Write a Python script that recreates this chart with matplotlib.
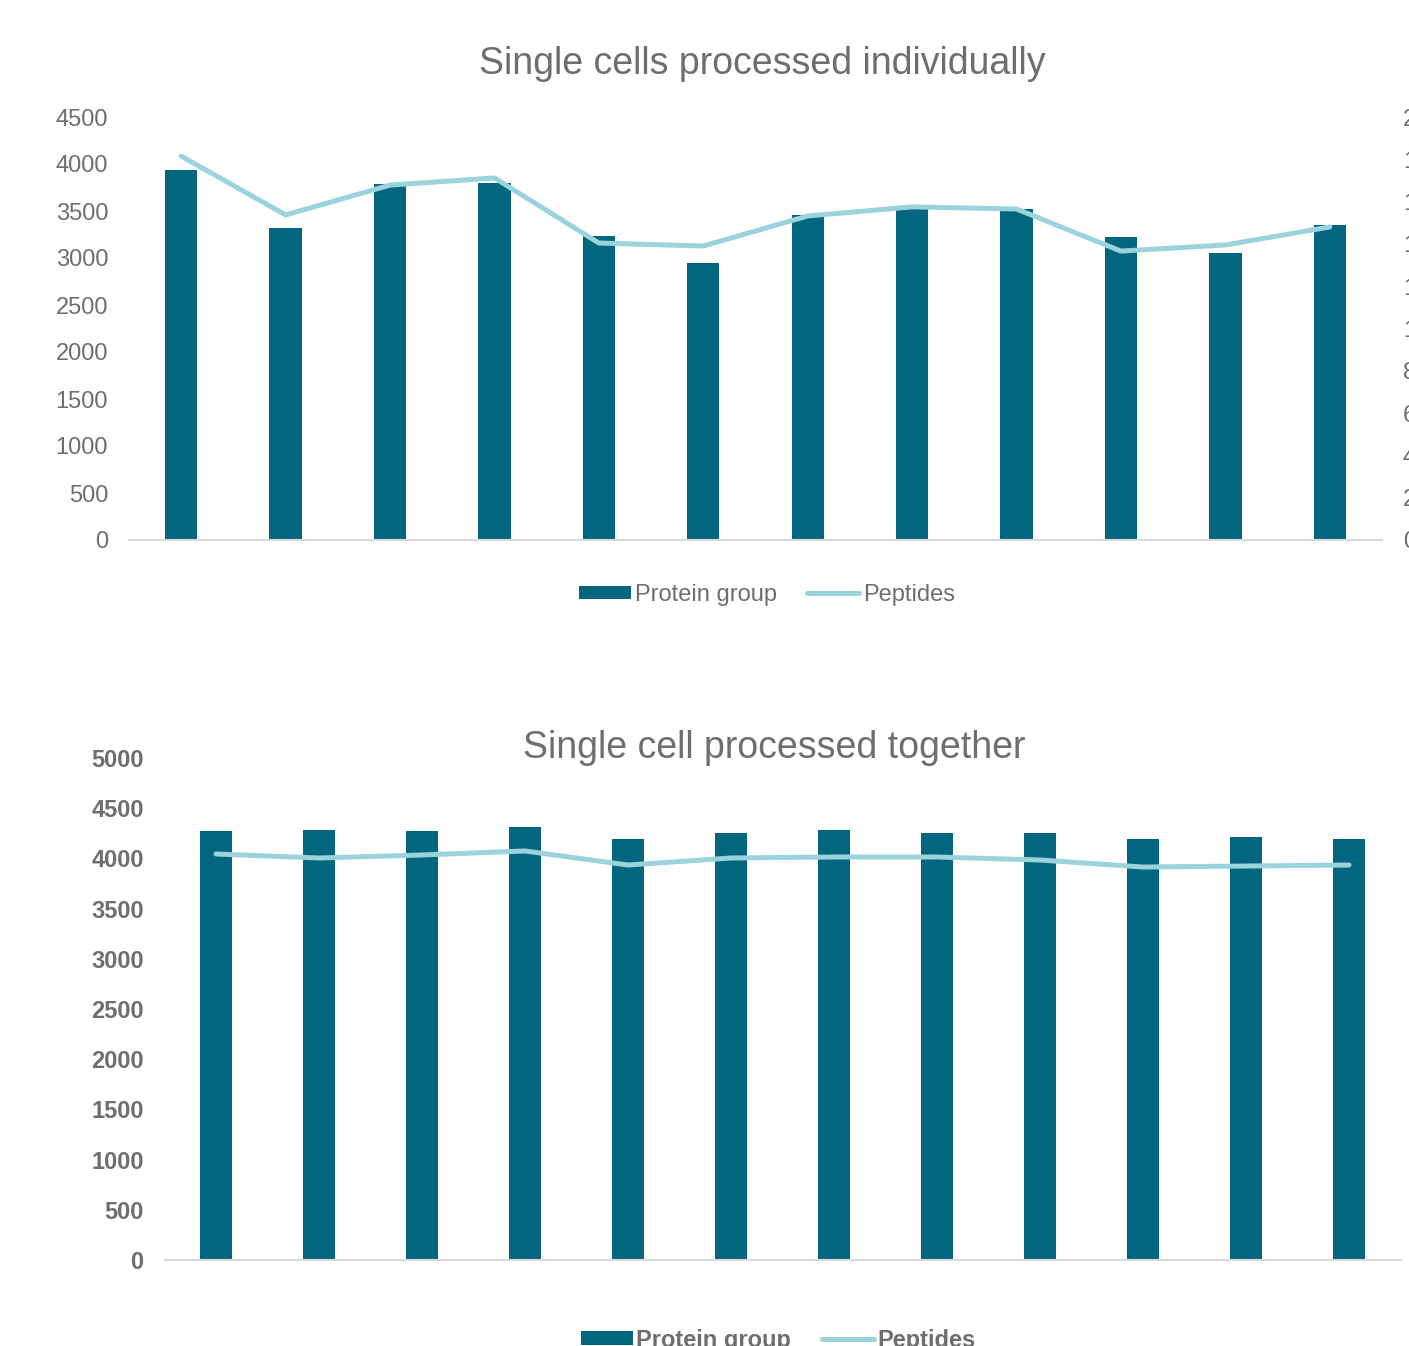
import matplotlib
matplotlib.use("Agg")
import matplotlib.pyplot as plt
from matplotlib.patches import Patch
from matplotlib.lines import Line2D

plt.rcParams['font.family'] = ['Liberation Sans', 'DejaVu Sans']

samples = list(range(1, 13))
top_protein = [3940, 3320, 3790, 3800, 3235, 2950, 3455, 3545, 3520, 3225, 3055, 3350]
top_peptides = [18150, 15370, 16780, 17120, 14040, 13900, 15320, 15750, 15650, 13660, 13950, 14800]
bot_protein = [4275, 4283, 4275, 4313, 4195, 4255, 4283, 4255, 4255, 4195, 4215, 4195]
bot_peptides = [20220, 20020, 20170, 20370, 19670, 20020, 20070, 20070, 19920, 19570, 19620, 19670]

BAR = '#02667F'
LINE = '#9AD3DC'
TXT = '#6E6E6E'
GRID = '#D9D9D9'

W, H = 1409, 1346
fig = plt.figure(figsize=(W / 100, H / 100), dpi=100)

def frac(x0, x1, ytop, ybot):
    return [x0 / W, (H - ybot) / H, (x1 - x0) / W, (ybot - ytop) / H]

def style(ax, bold=False):
    for s in ['top', 'left', 'right']:
        ax.spines[s].set_visible(False)
    ax.spines['bottom'].set_color(GRID)
    ax.spines['bottom'].set_linewidth(1.5)
    ax.tick_params(axis='both', length=0, colors=TXT, labelsize=17)
    ax.tick_params(axis='y', pad=15)
    ax.set_xticks([])
    if bold:
        for t in ax.get_yticklabels():
            t.set_fontweight('bold')

x = [i for i in range(len(samples))]

# Top chart
ax1 = fig.add_axes(frac(129, 1382, 117, 540))
ax1.bar(x, top_protein, width=0.31, color=BAR, zorder=2)
ax1.set_xlim(-0.5, 11.5)
ax1.set_ylim(0, 4500)
ax1.set_yticks(range(0, 4501, 500))
style(ax1)
ax1b = ax1.twinx()
ax1b.plot(x, top_peptides, color=LINE, lw=3.6, solid_capstyle='round', solid_joinstyle='round', zorder=3)
ax1b.set_ylim(0, 20000)
ax1b.set_yticks(range(0, 20001, 2000))
for s in ['top', 'left', 'right', 'bottom']:
    ax1b.spines[s].set_visible(False)
ax1b.tick_params(axis='y', length=0, colors=TXT, labelsize=17, pad=15)
fig.text(762 / W, 1 - 64 / H, 'Single cells processed individually', ha='center', va='center',
         fontsize=27, color=TXT)

handles = [Patch(facecolor=BAR, edgecolor='none'),
           Line2D([0], [0], color=LINE, lw=3.6, solid_capstyle='round')]
fig.legend(handles, ['Protein group', 'Peptides'], loc='center', bbox_to_anchor=(767 / W, 1 - 595 / H),
           ncol=2, frameon=False, fontsize=17, labelcolor=TXT, handlelength=2.2, handleheight=0.5,
           handletextpad=0.15, columnspacing=1.3)

# Bottom chart
ax2 = fig.add_axes(frac(164.5, 1400.5, 758, 1260))
ax2.bar(x, bot_protein, width=0.31, color=BAR, zorder=2)
ax2.set_xlim(-0.5, 11.5)
ax2.set_ylim(0, 5000)
ax2.set_yticks(range(0, 5001, 500))
style(ax2, bold=True)
ax2b = ax2.twinx()
ax2b.plot(x, bot_peptides, color=LINE, lw=3.6, solid_capstyle='round', solid_joinstyle='round', zorder=3)
ax2b.set_ylim(0, 25000)
ax2b.set_yticks([])
for s in ['top', 'left', 'right', 'bottom']:
    ax2b.spines[s].set_visible(False)
fig.text(774 / W, 1 - 748 / H, 'Single cell processed together', ha='center', va='center',
         fontsize=27, color=TXT)
fig.legend(handles, ['Protein group', 'Peptides'], loc='center', bbox_to_anchor=(778 / W, 1 - 1340 / H),
           ncol=2, frameon=False, labelcolor=TXT, handlelength=2.2, handleheight=0.5,
           handletextpad=0.15, columnspacing=1.3, prop={'weight': 'bold', 'size': 17})

fig.savefig('out.png', dpi=100, facecolor='white')
